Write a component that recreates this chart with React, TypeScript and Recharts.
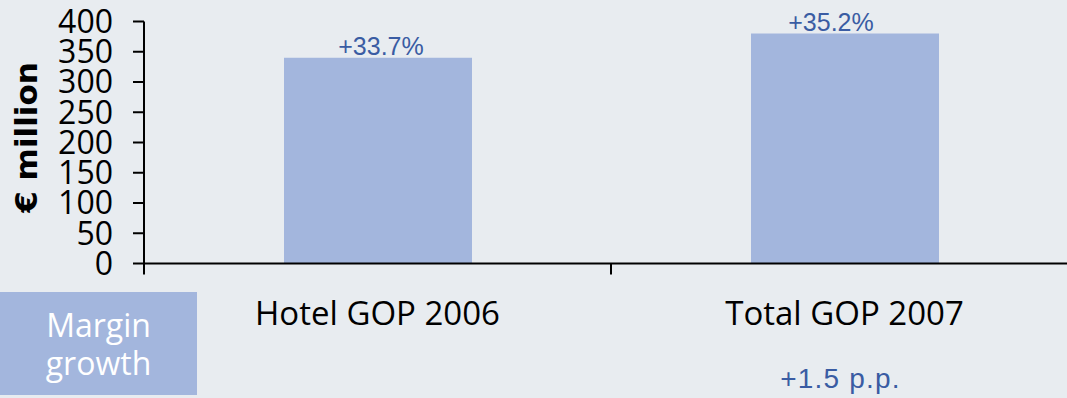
import React from 'react';
import { BarChart, Bar, XAxis, YAxis, LabelList } from 'recharts';

const categories = ['Hotel GOP 2006', 'Total GOP 2007'];
const gopValues = [340, 380];
const growthLabels = ['+33.7%', '+35.2%'];
const marginGrowthLabels = ['', '+1.5 p.p.'];
const yTicks = [0, 50, 100, 150, 200, 250, 300, 350, 400];

const data = categories.map((name, i) => ({
  name,
  value: gopValues[i],
  growth: growthLabels[i],
  margin: marginGrowthLabels[i],
}));

const BG = '#e8ecf0';
const BAR = '#a3b6dd';
const BLUE = '#3a5ca3';
const CHART_W = 1078;
const LEFT = 144;
const BAND = (CHART_W - LEFT) / categories.length;
const labelShift = [3, -14];

const XTick = (props: any) => {
  const { x, y, payload, index } = props;
  const m = marginGrowthLabels[index];
  return (
    <g>
      <line x1={x - BAND / 2} x2={x - BAND / 2} y1={y} y2={y + 11} stroke="#000" strokeWidth={2} />
      <text x={x} y={y + 61} textAnchor="middle" fontFamily="'Open Sans', sans-serif" fontSize={33} fill="#000">
        {payload.value}
      </text>
      {m ? (
        <text x={x - 4} y={y + 124} textAnchor="middle" fontFamily="'Liberation Sans', Arial, sans-serif" fontSize={28} letterSpacing={1.2} fill={BLUE}>
          {m}
        </text>
      ) : null}
    </g>
  );
};

const BarLabel = (props: any) => {
  const { x, y, width, index, value } = props;
  return (
    <text x={x + width / 2 + labelShift[index]} y={y - 3} textAnchor="middle" fontFamily="'Liberation Sans', Arial, sans-serif" fontSize={25} fill={BLUE}>
      {value}
    </text>
  );
};

const YTitle = (props: any) => {
  const { viewBox } = props;
  const cx = viewBox.x + 26;
  const cy = viewBox.y + viewBox.height / 2 - 5;
  return (
    <text x={cx} y={cy} transform={`rotate(-90 ${cx} ${cy})`} textAnchor="middle" dominantBaseline="central" fontFamily="'DejaVu Sans', sans-serif" fontWeight="bold" fontSize={31} fill="#000">
      € million
    </text>
  );
};

export default function App() {
  return (
    <div style={{ position: 'fixed', left: 0, top: 0, width: 1067, height: 398, overflow: 'hidden', background: BG }}>
      <BarChart
        width={CHART_W}
        height={398}
        data={data}
        margin={{ top: 21.5, right: 0, bottom: 0, left: 0 }}
      >
        <XAxis
          dataKey="name"
          axisLine={{ stroke: '#000', strokeWidth: 2 }}
          tickLine={false}
          tickSize={0}
          tickMargin={0}
          tick={<XTick />}
          interval={0}
          height={134.5}
        />
        <YAxis
          width={LEFT}
          domain={[0, 400]}
          ticks={yTicks}
          interval={0}
          axisLine={{ stroke: '#000', strokeWidth: 2 }}
          tickLine={{ stroke: '#000', strokeWidth: 2 }}
          tickSize={11}
          tickMargin={20}
          tick={{ fill: '#000', fontSize: 32, fontFamily: "'Open Sans', sans-serif" }}
          label={<YTitle />}
        />
        <Bar dataKey="value" fill={BAR} barSize={188} isAnimationActive={false}>
          <LabelList dataKey="growth" content={<BarLabel />} />
        </Bar>
      </BarChart>
      <div
        style={{
          position: 'absolute',
          left: 0,
          top: 292,
          width: 197,
          height: 103,
          background: BAR,
          color: '#fff',
          fontFamily: "'Open Sans', sans-serif",
          fontSize: 32,
          lineHeight: '38px',
          textAlign: 'center',
          display: 'flex',
          flexDirection: 'column',
          justifyContent: 'center',
        }}
      >
        <div>Margin</div>
        <div>growth</div>
      </div>
    </div>
  );
}
